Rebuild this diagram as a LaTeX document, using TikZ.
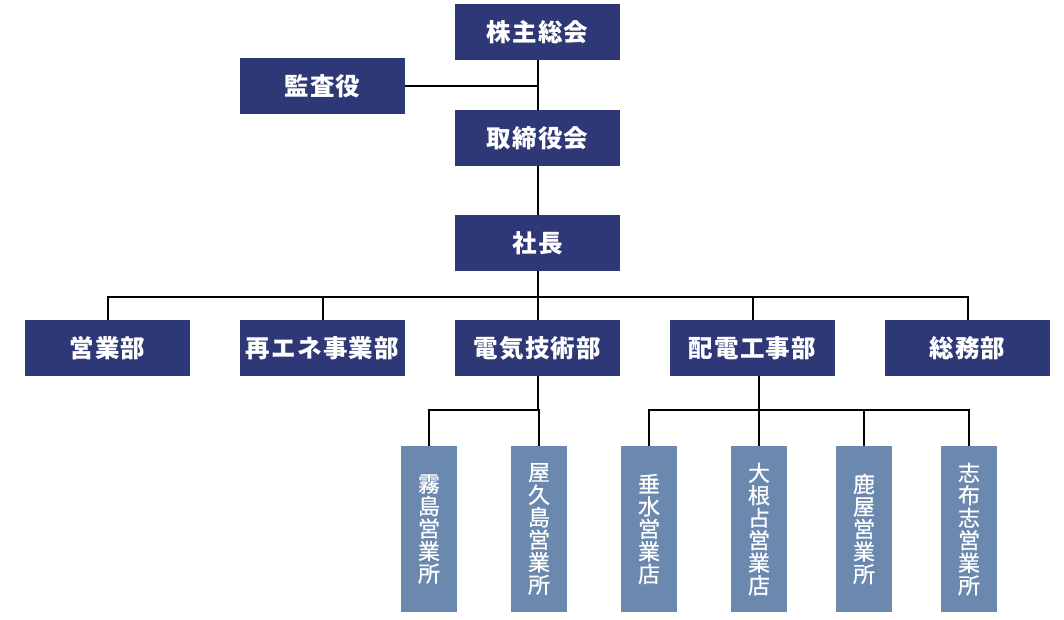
\documentclass[tikz,border=0pt]{standalone}
\usepackage{fontspec}
\newfontfamily\jph[LetterSpace=5]{Noto Sans CJK JP}
\newfontfamily\jpv[FakeBold=0.6]{Noto Sans CJK JP}
\definecolor{navy}{HTML}{2F3877}
\definecolor{steel}{HTML}{6B88AF}
\tikzset{
  topbox/.style={fill=navy, text=white, minimum width=165pt, minimum height=55.5pt, inner sep=0pt,
    font=\jph\bfseries\fontsize{24.5}{24.5}\selectfont},
  vbox/.style={fill=steel, text=white, minimum width=56pt, minimum height=165.5pt, inner sep=0pt,
    align=center, font=\jpv\fontsize{22}{22.5}\selectfont},
  link/.style={draw=black, line width=2pt}
}
\begin{document}
\begin{tikzpicture}[x=1pt,y=-1pt]
\useasboundingbox (0,0) rectangle (1064,620);
\coordinate (trunkA) at (537.5,86);
\coordinate (jA) at (537.5,297);
\coordinate (jB) at (537.5,410);
\coordinate (jC) at (758,410);
% boxes
\node[topbox] (kabu) at (537.5,32) {株主総会};
\node[topbox] (kansa) at (322.5,86) {監査役};
\node[topbox] (tori) at (537.5,138) {取締役会};
\node[topbox] (shacho) at (537.5,243) {社長};
\node[topbox] (eigyo) at (107.5,348) {営業部};
\node[topbox] (saiene) at (322.5,348) {再エネ事業部};
\node[topbox] (denki) at (537.5,348) {電気技術部};
\node[topbox] (haiden) at (752.5,348) {配電工事部};
\node[topbox] (somu) at (967.5,348) {総務部};
\node[vbox] (kirishima) at (429,529) {霧\\島\\営\\業\\所};
\node[vbox] (yakushima) at (539,529) {屋\\久\\島\\営\\業\\所};
\node[vbox] (tarumizu) at (649,529) {垂\\水\\営\\業\\店};
\node[vbox] (nejime) at (759,529) {大\\根\\占\\営\\業\\店};
\node[vbox] (kanoya) at (864,529) {鹿\\屋\\営\\業\\所};
\node[vbox] (shibushi) at (969,529) {志\\布\\志\\営\\業\\所};
% links
\draw[link] (kabu.south) -- (tori.north);
\draw[link] (kansa.east) -- (trunkA);
\draw[link] (tori.south) -- (shacho.north);
\draw[link] (shacho.south) -- (jA);
\draw[link] (eigyo.north) |- (jA);
\draw[link] (somu.north) |- (jA);
\draw[link] (saiene.north) -- (saiene.north |- jA);
\draw[link] (haiden.north) -- (haiden.north |- jA);
\draw[link] (denki.north) -- (jA);
\draw[link] (denki.south) -- (jB);
\draw[link] (jB) -| (kirishima.north);
\draw[link] (jB) -- (jB -| yakushima.north) -- (yakushima.north);
\draw[link] (haiden.south -| nejime.north) -- (nejime.north);
\draw[link] (tarumizu.north) |- (jC);
\draw[link] (shibushi.north) |- (jC);
\draw[link] (kanoya.north) -- (kanoya.north |- jC);
\end{tikzpicture}
\end{document}
